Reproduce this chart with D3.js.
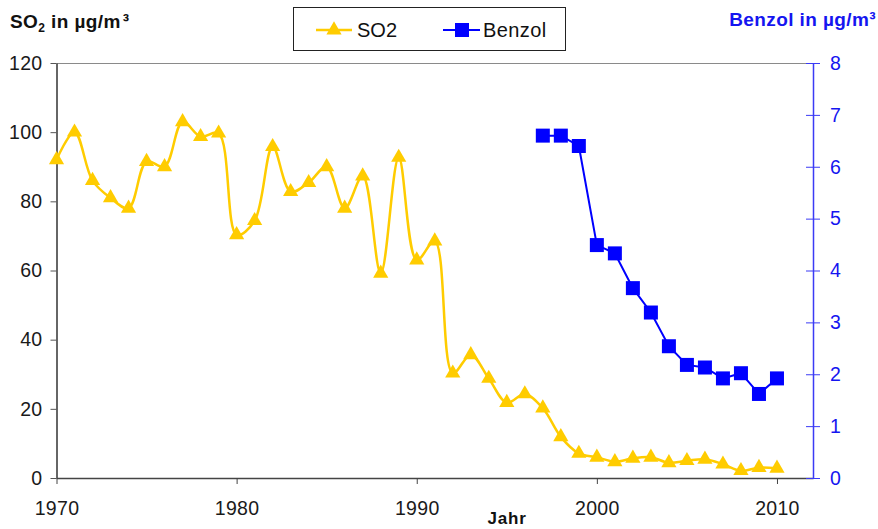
<!DOCTYPE html>
<html>
<head>
<meta charset="utf-8">
<script src="https://cdnjs.cloudflare.com/ajax/libs/d3/7.8.5/d3.min.js"></script>
<style>
  body { margin: 0; background: #fff; }
  svg { display: block; font-family: "Liberation Sans", Arial, sans-serif; }
</style>
</head>
<body>
<script>
'use strict';

// SO2 yearly means 1970-2010 (µg/m³)
const so2Years = d3.range(1970, 2011);
const so2Values = [92, 100, 86, 81, 78, 91.5, 90, 103, 98.7, 99.7,
  70.3, 74.4, 95.8, 82.8, 85.4, 90, 78, 87.3, 59.2, 92.7,
  63, 68.5, 30.3, 35.6, 28.8, 21.8, 24.3, 20.2, 11.9, 7.1,
  6, 4.7, 5.7, 6, 4.4, 5, 5.4, 4, 2.1, 3, 2.8];

// Benzol yearly means 1997-2010 (µg/m³)
const benzolYears = d3.range(1997, 2011);
const benzolValues = [6.6, 6.6, 6.4, 4.49, 4.33, 3.66, 3.19, 2.54, 2.18, 2.13, 1.92, 2.02, 1.62, 1.92];

const xTicks = [1970, 1980, 1990, 2000, 2010];
const leftTicks = [0, 20, 40, 60, 80, 100, 120];
const rightTicks = [0, 1, 2, 3, 4, 5, 6, 7, 8];

const yellow = "#FFCC00";
const blue = "#0000FF";
const axisBlue = "#3B3BF5";

(function () {
  const width = 878, height = 529;
  const left = 56.5, right = 813, top = 63, bottom = 478;
  const tickFont = "19.5px";

  const svg = d3.select("body").append("svg")
    .attr("width", width)
    .attr("height", height);

  const x = d3.scaleLinear().domain([1970, 2012]).range([left, right]);
  const yL = d3.scaleLinear().domain([0, 120]).range([bottom, top]);
  const yR = d3.scaleLinear().domain([0, 8]).range([bottom, top]);

  // top frame line
  svg.append("line")
    .attr("x1", left).attr("x2", right)
    .attr("y1", top + 0.5).attr("y2", top + 0.5)
    .attr("stroke", "#8a8a8a").attr("stroke-width", 1);

  // left axis
  const gL = svg.append("g")
    .attr("transform", `translate(${left},0)`)
    .call(d3.axisLeft(yL).tickValues(leftTicks).tickSize(6).tickPadding(8).tickSizeOuter(0));
  gL.select(".domain").attr("stroke", "#333").attr("stroke-width", 1.5);
  gL.selectAll(".tick line").attr("stroke", "#555");
  gL.selectAll(".tick text").attr("fill", "#1a1a1a").style("font-size", tickFont)
    .style("letter-spacing", "0.3px")
    .attr("font-family", "Liberation Sans, Arial, sans-serif");

  // bottom axis
  const gB = svg.append("g")
    .attr("transform", `translate(0,${bottom})`)
    .call(d3.axisBottom(x).tickValues(xTicks).tickFormat(d3.format("d")).tickSize(6).tickPadding(17).tickSizeOuter(0));
  gB.select(".domain").attr("stroke", "#444").attr("stroke-width", 1.5);
  gB.selectAll(".tick line").attr("stroke", "#444");
  gB.selectAll(".tick text").attr("fill", "#1a1a1a").style("font-size", tickFont)
    .style("letter-spacing", "0.3px")
    .attr("font-family", "Liberation Sans, Arial, sans-serif");

  // right axis (blue, ticks crossing)
  const gR = svg.append("g")
    .attr("transform", `translate(${right},0)`)
    .call(d3.axisRight(yR).tickValues(rightTicks).tickSize(7).tickPadding(10).tickSizeOuter(0));
  gR.select(".domain").attr("stroke", axisBlue).attr("stroke-width", 1.5);
  gR.selectAll(".tick line").attr("x1", -7).attr("stroke", axisBlue);
  gR.selectAll(".tick text").attr("fill", "#1515F0").style("font-size", tickFont)
    .attr("font-family", "Liberation Sans, Arial, sans-serif");

  // SO2 series (smoothed line)
  const so2 = so2Years.map((yr, i) => ({ x: yr, y: so2Values[i] }));
  svg.append("path")
    .datum(so2)
    .attr("fill", "none")
    .attr("stroke", yellow)
    .attr("stroke-width", 2.5)
    .attr("d", d3.line().x(d => x(d.x)).y(d => yL(d.y)).curve(d3.curveCatmullRom.alpha(0.5)));

  const tri = d3.symbol().type(d3.symbolTriangle).size(100);
  svg.selectAll(".so2dot")
    .data(so2)
    .enter()
    .append("path")
    .attr("class", "so2dot")
    .attr("d", tri)
    .attr("transform", d => `translate(${x(d.x)},${yL(d.y)})`)
    .attr("fill", yellow);

  // Benzol series
  const benzol = benzolYears.map((yr, i) => ({ x: yr, y: benzolValues[i] }));
  svg.append("path")
    .datum(benzol)
    .attr("fill", "none")
    .attr("stroke", blue)
    .attr("stroke-width", 2)
    .attr("d", d3.line().x(d => x(d.x)).y(d => yR(d.y)));

  svg.selectAll(".bzdot")
    .data(benzol)
    .enter()
    .append("rect")
    .attr("class", "bzdot")
    .attr("x", d => x(d.x) - 7)
    .attr("y", d => yR(d.y) - 7)
    .attr("width", 14)
    .attr("height", 14)
    .attr("fill", blue);

  // axis titles
  const t1 = svg.append("text")
    .attr("x", 10).attr("y", 28)
    .style("font-size", "19px").style("font-weight", "bold")
    .style("letter-spacing", "0.4px").attr("fill", "#111");
  t1.append("tspan").text("SO");
  t1.append("tspan").attr("dy", 4).style("font-size", "12px").text("2");
  t1.append("tspan").attr("dy", -4).text(" in µg/m");
  t1.append("tspan").attr("dx", 2).text("³");

  svg.append("text")
    .attr("x", 876).attr("y", 26)
    .attr("text-anchor", "end")
    .style("font-size", "19px").style("font-weight", "bold")
    .style("letter-spacing", "0.4px")
    .attr("fill", "#1515F0")
    .text("Benzol in µg/m³");

  svg.append("text")
    .attr("x", 507).attr("y", 524)
    .attr("text-anchor", "middle")
    .style("font-size", "17px").style("font-weight", "bold")
    .style("letter-spacing", "0.8px")
    .attr("fill", "#111")
    .text("Jahr");

  // legend
  const lg = svg.append("g");
  lg.append("rect")
    .attr("x", 293.5).attr("y", 7.5).attr("width", 272).attr("height", 43)
    .attr("fill", "#fff").attr("stroke", "#222").attr("stroke-width", 1);

  lg.append("line").attr("x1", 316).attr("x2", 352).attr("y1", 30).attr("y2", 30)
    .attr("stroke", yellow).attr("stroke-width", 2.5);
  lg.append("path").attr("d", tri).attr("transform", "translate(334,30)").attr("fill", yellow);
  lg.append("text").attr("x", 357).attr("y", 36.5).style("font-size", "20px").attr("fill", "#111").text("SO2");

  lg.append("line").attr("x1", 443).attr("x2", 480).attr("y1", 30).attr("y2", 30)
    .attr("stroke", blue).attr("stroke-width", 2);
  lg.append("rect").attr("x", 455).attr("y", 23).attr("width", 14).attr("height", 14).attr("fill", blue);
  lg.append("text").attr("x", 483).attr("y", 36.5).style("font-size", "20px")
    .style("letter-spacing", "0.4px").attr("fill", "#111").text("Benzol");
})();
</script>
</body>
</html>
